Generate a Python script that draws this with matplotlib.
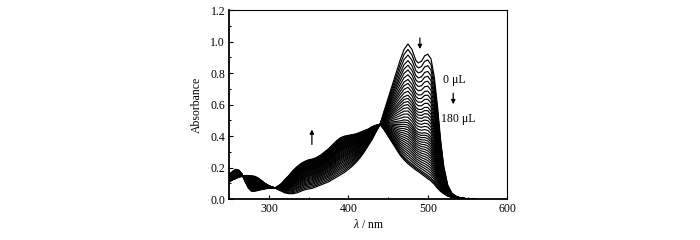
import matplotlib
matplotlib.use("Agg")
import matplotlib.pyplot as plt
import numpy as np

plt.rcParams["font.family"] = ["Liberation Serif", "DejaVu Serif"]
plt.rcParams["mathtext.fontset"] = "custom"
plt.rcParams["mathtext.it"] = "Liberation Serif:italic"
plt.rcParams["mathtext.rm"] = "Liberation Serif"

# wavelength grid (nm) shared by the two limiting spectra
wavelengths = [250, 255, 258, 262, 266, 270, 274, 278, 282, 286, 290, 295, 300,
               305, 308, 312, 316, 320, 325, 330, 335, 340, 345, 350, 355, 360,
               365, 370, 375, 380, 385, 390, 395, 400, 405, 410, 415, 420, 425,
               430, 435, 440, 445, 450, 455, 460, 465, 470, 475, 480, 485, 488,
               492, 496, 500, 504, 508, 512, 516, 520, 525, 530, 535, 540, 545,
               550, 560]

# spectrum with 0 uL added
spectrum_start = [0.16, 0.18, 0.19, 0.185, 0.16, 0.11, 0.07, 0.05, 0.05, 0.055,
                  0.06, 0.065, 0.07, 0.072, 0.07, 0.06, 0.05, 0.04, 0.035, 0.035,
                  0.04, 0.05, 0.06, 0.065, 0.07, 0.08, 0.09, 0.10, 0.11, 0.125,
                  0.14, 0.155, 0.17, 0.19, 0.21, 0.235, 0.265, 0.30, 0.34, 0.38,
                  0.43, 0.475, 0.56, 0.64, 0.72, 0.80, 0.88, 0.95, 0.985, 0.95,
                  0.88, 0.865, 0.875, 0.91, 0.92, 0.89, 0.78, 0.60, 0.38, 0.21,
                  0.09, 0.04, 0.02, 0.01, 0.006, 0.003, 0.0]

# spectrum with 180 uL added
spectrum_end = [0.11, 0.125, 0.13, 0.14, 0.145, 0.15, 0.15, 0.148, 0.145, 0.135,
                0.12, 0.10, 0.085, 0.075, 0.072, 0.085, 0.10, 0.125, 0.15, 0.18,
                0.205, 0.225, 0.24, 0.25, 0.255, 0.265, 0.28, 0.30, 0.32, 0.345,
                0.37, 0.39, 0.40, 0.405, 0.41, 0.415, 0.425, 0.435, 0.445, 0.46,
                0.47, 0.475, 0.44, 0.40, 0.36, 0.32, 0.28, 0.25, 0.225, 0.205,
                0.185, 0.175, 0.16, 0.145, 0.13, 0.115, 0.095, 0.07, 0.05, 0.035,
                0.02, 0.012, 0.007, 0.004, 0.002, 0.001, 0.0]

# absorbance at 475 nm of each titration curve
peak_heights = [0.985, 0.95, 0.915, 0.88, 0.85, 0.82, 0.79, 0.76, 0.735, 0.71,
                0.685, 0.66, 0.64, 0.62, 0.60, 0.58, 0.56, 0.54, 0.52, 0.50,
                0.485, 0.47, 0.455, 0.44, 0.425, 0.41, 0.395, 0.38, 0.365, 0.35,
                0.335, 0.32, 0.305, 0.29, 0.275, 0.26, 0.245, 0.235, 0.225]

wl = np.array(wavelengths)
a0 = np.array(spectrum_start)
a1 = np.array(spectrum_end)
i475 = wavelengths.index(475)

fig = plt.figure(figsize=(7, 2.4), dpi=100)
ax = fig.add_axes([0.3276, 0.170, 0.397, 0.788])

for h in peak_heights:
    frac = (h - a1[i475]) / (a0[i475] - a1[i475])
    ax.plot(wl, a1 + frac * (a0 - a1), color="black", lw=0.85)

ax.set_xlim(250, 600)
ax.set_ylim(0, 1.2)
ax.set_xticks([300, 400, 500, 600])
ax.set_xticks(np.arange(250, 601, 50), minor=True)
ax.set_yticks(np.arange(0, 1.21, 0.2))
ax.set_yticks(np.arange(0, 1.21, 0.1), minor=True)
ax.set_yticklabels(["0.0", "0.2", "0.4", "0.6", "0.8", "1.0", "1.2"])
ax.tick_params(which="both", direction="in", labelsize=8.5, width=0.8)
ax.tick_params(which="major", length=3, pad=3)
ax.tick_params(which="minor", length=1.5)
ax.spines["left"].set_linewidth(1.3)
ax.spines["bottom"].set_linewidth(1.3)
ax.spines["right"].set_linewidth(0.8)
ax.spines["top"].set_linewidth(0.8)

ax.set_xlabel(r"$\mathit{\lambda}$ / nm", fontsize=8.5, labelpad=2)
ax.set_ylabel("Absorbance", fontsize=8.5, labelpad=5)

arrow = dict(arrowstyle="-|>", color="black", lw=0.9, mutation_scale=6)
ax.annotate("", xy=(490, 0.935), xytext=(490, 1.04), arrowprops=arrow)
ax.annotate("", xy=(354, 0.46), xytext=(354, 0.33), arrowprops=arrow)
ax.annotate("", xy=(532, 0.585), xytext=(532, 0.69), arrowprops=arrow)
ax.text(533, 0.755, "0 μL", ha="center", va="center", fontsize=8.5)
ax.text(538, 0.51, "180 μL", ha="center", va="center", fontsize=8.5)

fig.savefig("out.png", dpi=100)
